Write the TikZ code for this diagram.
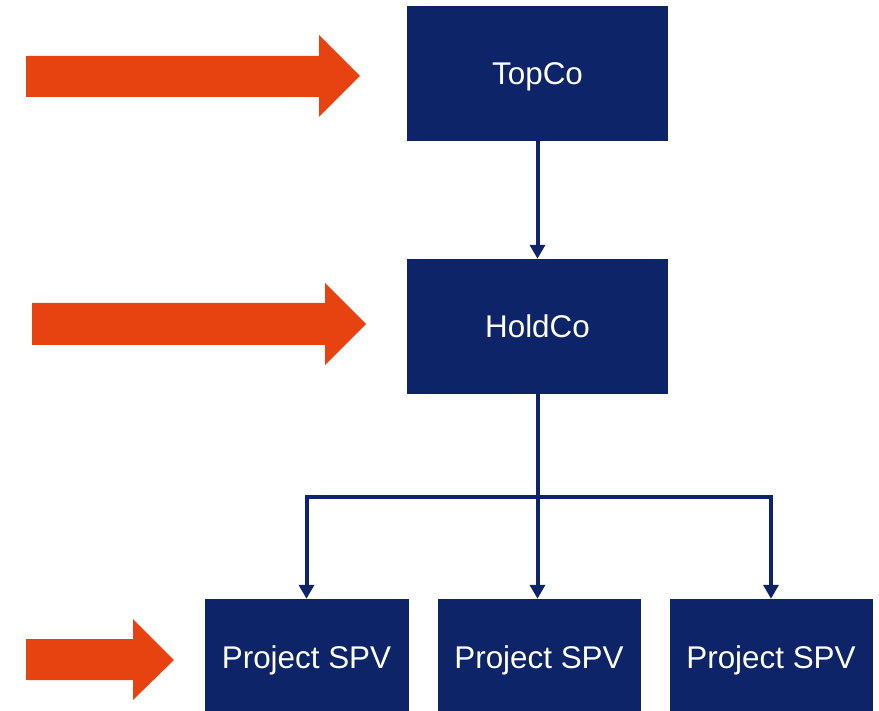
\documentclass[tikz,border=0pt]{standalone}
\usepackage{fontspec}
\setmainfont{Liberation Sans}
\usetikzlibrary{arrows.meta}
\definecolor{navy}{HTML}{0D2468}
\definecolor{flame}{HTML}{E64310}
\tikzset{
  entity/.style={fill=navy, text=white, inner sep=0pt, text depth=0pt,
    font=\fontsize{31.4}{36}\selectfont, text height=22.4pt},
  spvbox/.style={entity, minimum width=203pt, minimum height=112pt, text height=26.4pt},
  link/.style={draw=navy, line width=4pt, -{Triangle[length=14pt,width=15pt]}},
  bar/.style={draw=navy, line width=4pt, line cap=rect},
  bigarrow/.style={fill=flame, draw=none}
}
\begin{document}
\begin{tikzpicture}[x=1pt,y=-1pt]
  \useasboundingbox (0,0) rectangle (879,711);
  % entity boxes
  \node[entity, minimum width=261pt, minimum height=135pt] (topco) at (537.5,73.5) {TopCo};
  \node[entity, minimum width=261pt, minimum height=135pt] (holdco) at (537.5,326.5) {HoldCo};
  \node[spvbox, minimum width=204pt] (spv1) at (306.5,655) {Project SPV};
  \node[spvbox] (spv2) at (539,655) {Project SPV};
  \node[spvbox] (spv3) at (771,655) {Project SPV};
  % branch points
  \coordinate (hub) at (holdco.south |- 0,497);
  \coordinate (hubL) at (spv1.north |- 0,497);
  \coordinate (hubR) at (spv3.north |- 0,497);
  % ownership connectors
  \draw[link] (topco.south) -- (holdco.north);
  \draw[bar] (holdco.south) -- (hub);
  \draw[bar] (hubL) -- (hubR);
  \draw[link] (hubL) -- (spv1.north);
  \draw[link] (hub) -- (hub |- spv2.north);
  \draw[link] (hubR) -- (spv3.north);
  % block arrows pointing at each level
  \fill[bigarrow] (26,56) -- (319,56) -- (319,35) -- (360,76) -- (319,117) -- (319,97) -- (26,97) -- cycle;
  \fill[bigarrow] (32,303) -- (325,303) -- (325,283) -- (366,324) -- (325,365) -- (325,345) -- (32,345) -- cycle;
  \fill[bigarrow] (26,639) -- (133,639) -- (133,619) -- (174,660) -- (133,700) -- (133,680) -- (26,680) -- cycle;
\end{tikzpicture}
\end{document}
